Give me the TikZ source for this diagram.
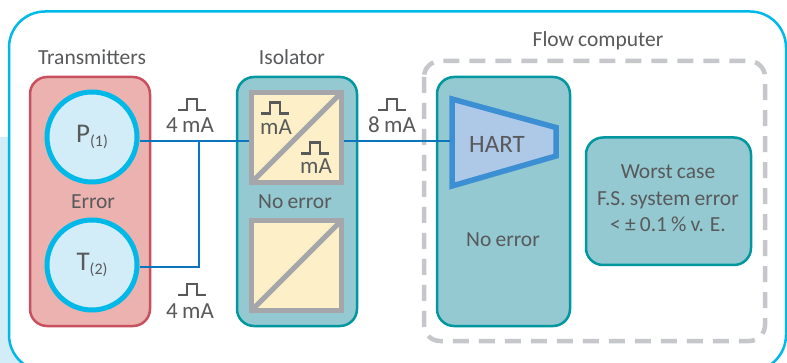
\documentclass[tikz,border=0pt]{standalone}
\usepackage{fontspec}
\setmainfont[WordSpace=0.85]{Carlito}
\usetikzlibrary{calc}
\definecolor{bgblue}{HTML}{D2ECF8}
\definecolor{frameblue}{HTML}{00B9E8}
\definecolor{redline}{HTML}{C9505F}
\definecolor{redfill}{HTML}{EBB2B0}
\definecolor{tealline}{HTML}{00979F}
\definecolor{tealfill}{HTML}{94C9D2}
\definecolor{creamfill}{HTML}{FDEFC8}
\definecolor{sqgray}{HTML}{A5A6A9}
\definecolor{dashgray}{HTML}{C6C7CA}
\definecolor{wire}{HTML}{0B75BE}
\definecolor{hartline}{HTML}{3B8FD2}
\definecolor{hartfill}{HTML}{AEC8E8}
\definecolor{txt}{HTML}{58595B}
\newcommand{\lbl}[1]{\fontsize{#1}{#1}\selectfont}
\tikzset{
  x=1pt,y=-1pt,
  every node/.style={text=txt,font=\lbl{21.5},inner sep=0pt,outer sep=0pt,align=center},
  panel/.style={rounded corners=17pt,line width=2.5pt},
  redpanel/.style={panel,draw=redline,fill=redfill},
  tealpanel/.style={panel,draw=tealline,fill=tealfill},
  sensor/.style={circle,draw=frameblue,fill=bgblue,line width=5pt,minimum size=90pt,outer sep=2.5pt,font=\lbl{27}},
  convbox/.style={draw=sqgray,fill=creamfill,line width=5pt,minimum size=90pt,outer sep=2.5pt},
  diag/.style={sqgray,line width=5pt,shorten <=2pt,shorten >=2pt},
  wireline/.style={draw=wire,line width=2.8pt},
  pulseline/.style={draw=txt,line width=2.2pt},
  current/.style={font=\lbl{23}},
  pics/pulse/.style={code={\draw[pulseline] (-14,5.5) -- (-5,5.5) -- (-5,-5.5) -- (5,-5.5) -- (5,5.5) -- (14,5.5);}}
}
\newcommand{\subs}[1]{\raisebox{-4pt}{\lbl{16}#1}}
\begin{document}
\begin{tikzpicture}
\useasboundingbox (0,0) rectangle (787,363);
\fill[bgblue] (0,137) rectangle (60,363);
\begin{scope}
\clip (0,0) rectangle (787,363);
\draw[draw=frameblue,fill=white,line width=2.5pt,rounded corners=36pt] (9,11.5) rectangle (786,371);
\end{scope}
% panels
\draw[redpanel] (30,77) rectangle (150,326);
\draw[tealpanel] (237,77) rectangle (357,326);
\draw[tealpanel] (437,77) rectangle (570,326);
\draw[tealpanel] (586,137.5) rectangle (751,265);
\draw[draw=dashgray,line width=4.5pt,rounded corners=16pt,dash pattern=on 16pt off 10pt] (424,61) rectangle (765,341);
% nodes
\node[sensor] (P) at (92,137) {P\subs{(1)}};
\node[sensor] (T) at (92,265) {T\subs{(2)}};
\node[convbox] (I1) at (296.5,137.5) {};
\node[convbox] (I2) at (296.5,265.5) {};
\draw[diag] (I1.south west) -- (I1.north east);
\draw[diag] (I2.south west) -- (I2.north east);
\draw[draw=hartline,fill=hartfill,line width=5.5pt,miter limit=10] (452,99) -- (556,127.5) -- (556,156) -- (452,186) -- cycle;
\coordinate (Hin) at (449.5,141);
\node (hart) at (497,144) {\lbl{25}HART};
% connectors
\coordinate (J) at (199,141);
\coordinate (Tj) at (199,267);
\draw[wireline] (P.east |- J) -- (J) -- (I1.west |- J);
\draw[wireline] (T.east |- Tj) -- (Tj) -- (J);
\draw[wireline] (I1.east |- J) -- (Hin);
% labels
\node (ltrans) at (92,57) {Transmitters};
\node (liso) at (292,57) {Isolator};
\node (lflow) at (598,41) {Flow computer};
\node (lerr) at (93,202) {Error};
\node (lno1) at (295,202) {No error};
\node (lno2) at (503,240) {No error};
\pic at (192,104.5) {pulse};
\node[current] (a1) at (190,125) {4 mA};
\pic at (192,289.5) {pulse};
\node[current] (a2) at (190,311) {4 mA};
\pic at (392,104.5) {pulse};
\node[current] (a3) at (392,125) {8 mA};
\pic at (275,108) {pulse};
\node[current] (m1) at (276,127) {mA};
\pic at (315,148) {pulse};
\node[current] (m2) at (316,166) {mA};
\node[font=\fontsize{21.5}{26.5}\selectfont] (wc) at (668,198.5) {Worst case\\F.S. system error\\< ± 0.1 \% v. E.};
\end{tikzpicture}
\end{document}
